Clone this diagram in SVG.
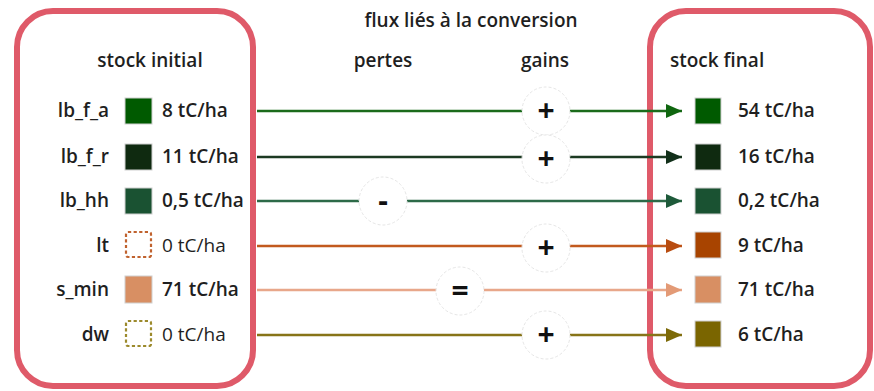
<svg xmlns="http://www.w3.org/2000/svg" width="874" height="391" viewBox="0 0 874 391">
  <style>
    text { font-family: "Open Sans", "Noto Sans", "Liberation Sans", sans-serif; fill: #1f1f1f; font-size: 19px; font-weight: 600; }
    .reg { font-weight: 400; }
    .mid { text-anchor: middle; }
    .end { text-anchor: end; }
    .frame { fill: #ffffff; stroke: #df5a69; stroke-width: 6; }
    .sq { stroke: #d0d0d0; stroke-width: 1; }
    .dash { fill: none; stroke-width: 2.2; stroke-dasharray: 3.2 2.4; }
    .flow { fill: none; stroke-width: 2.4; }
    .op { fill: #ffffff; stroke: #e6e6e6; stroke-width: 1; stroke-dasharray: 3 2; }
    .sym { font-size: 30px; font-weight: 700; text-anchor: middle; fill: #111; }
  </style>
  <defs>
    <marker id="ah1" viewBox="0 0 16 14" refX="16" refY="7" markerWidth="16" markerHeight="14" markerUnits="userSpaceOnUse" orient="auto"><path d="M0,0 L16,7 L0,14 Z" fill="#0f660f"/></marker>
    <marker id="ah2" viewBox="0 0 16 14" refX="16" refY="7" markerWidth="16" markerHeight="14" markerUnits="userSpaceOnUse" orient="auto"><path d="M0,0 L16,7 L0,14 Z" fill="#12301a"/></marker>
    <marker id="ah3" viewBox="0 0 16 14" refX="16" refY="7" markerWidth="16" markerHeight="14" markerUnits="userSpaceOnUse" orient="auto"><path d="M0,0 L16,7 L0,14 Z" fill="#1e5a3a"/></marker>
    <marker id="ah4" viewBox="0 0 16 14" refX="16" refY="7" markerWidth="16" markerHeight="14" markerUnits="userSpaceOnUse" orient="auto"><path d="M0,0 L16,7 L0,14 Z" fill="#b84c10"/></marker>
    <marker id="ah5" viewBox="0 0 16 14" refX="16" refY="7" markerWidth="16" markerHeight="14" markerUnits="userSpaceOnUse" orient="auto"><path d="M0,0 L16,7 L0,14 Z" fill="#e39a76"/></marker>
    <marker id="ah6" viewBox="0 0 16 14" refX="16" refY="7" markerWidth="16" markerHeight="14" markerUnits="userSpaceOnUse" orient="auto"><path d="M0,0 L16,7 L0,14 Z" fill="#7d6a08"/></marker>
  </defs>

  <rect width="874" height="391" fill="#ffffff"/>

  <!-- frames -->
  <rect class="frame" x="17" y="11" width="236" height="375" rx="36"/>
  <rect class="frame" x="650" y="11" width="220" height="375" rx="36"/>

  <!-- headings -->
  <text class="mid" x="471" y="27">flux liés à la conversion</text>
  <text class="mid" x="150" y="67">stock initial</text>
  <text class="mid" x="383" y="67">pertes</text>
  <text class="mid" x="545" y="67">gains</text>
  <text x="670" y="67">stock final</text>

  <!-- connectors -->
  <g id="connectors">
    <line class="flow" x1="257" y1="111" x2="682" y2="111" stroke="#1b6b1b" marker-end="url(#ah1)"/>
    <line class="flow" x1="257" y1="157" x2="682" y2="157" stroke="#1c3a22" marker-end="url(#ah2)"/>
    <line class="flow" x1="257" y1="201" x2="682" y2="201" stroke="#2d6a48" marker-end="url(#ah3)"/>
    <line class="flow" x1="257" y1="246" x2="682" y2="246" stroke="#c25a1e" marker-end="url(#ah4)"/>
    <line class="flow" x1="257" y1="290" x2="682" y2="290" stroke="#e8a78a" marker-end="url(#ah5)"/>
    <line class="flow" x1="257" y1="335" x2="682" y2="335" stroke="#877418" marker-end="url(#ah6)"/>
  </g>

  <!-- operators on each flow -->
  <g id="op-lb_f_a"><circle class="op" cx="546" cy="111" r="24"/><text class="sym" x="546" y="121">+</text></g>
  <g id="op-lb_f_r"><circle class="op" cx="546" cy="159" r="24"/><text class="sym" x="546" y="169">+</text></g>
  <g id="op-lb_hh"><circle class="op" cx="383" cy="201" r="24"/><text class="sym" x="383" y="211">-</text></g>
  <g id="op-lt"><circle class="op" cx="546" cy="248" r="24"/><text class="sym" x="546" y="258">+</text></g>
  <g id="op-s_min"><circle class="op" cx="460" cy="291" r="24"/><text class="sym" x="460" y="301">=</text></g>
  <g id="op-dw"><circle class="op" cx="546" cy="335" r="24"/><text class="sym" x="546" y="345">+</text></g>

  <!-- initial stock -->
  <g id="init-lb_f_a">
    <text class="end" x="109" y="117">lb_f_a</text>
    <rect class="sq" x="125" y="98" width="27" height="26" fill="#005a00"/>
    <text x="162" y="117">8 tC/ha</text>
  </g>
  <g id="init-lb_f_r">
    <text class="end" x="109" y="163">lb_f_r</text>
    <rect class="sq" x="125" y="144" width="27" height="26" fill="#0f2a10"/>
    <text x="162" y="163">11 tC/ha</text>
  </g>
  <g id="init-lb_hh">
    <text class="end" x="109" y="207">lb_hh</text>
    <rect class="sq" x="125" y="188" width="27" height="26" fill="#1a5232"/>
    <text x="162" y="207">0,5 tC/ha</text>
  </g>
  <g id="init-lt">
    <text class="end" x="109" y="252">lt</text>
    <rect class="dash" x="126" y="232" width="25" height="25" rx="2" stroke="#c0622e"/>
    <text class="reg" x="162" y="252">0 tC/ha</text>
  </g>
  <g id="init-s_min">
    <text class="end" x="109" y="296">s_min</text>
    <rect class="sq" x="125" y="276" width="27" height="27" fill="#d88f63"/>
    <text x="162" y="296">71 tC/ha</text>
  </g>
  <g id="init-dw">
    <text class="end" x="109" y="341">dw</text>
    <rect class="dash" x="126" y="321" width="25" height="25" rx="2" stroke="#9c8a2c"/>
    <text class="reg" x="162" y="341">0 tC/ha</text>
  </g>

  <!-- final stock -->
  <g id="final-lb_f_a">
    <rect class="sq" x="695" y="98" width="26" height="26" fill="#005a00"/>
    <text x="738" y="117">54 tC/ha</text>
  </g>
  <g id="final-lb_f_r">
    <rect class="sq" x="695" y="144" width="26" height="26" fill="#0f2a10"/>
    <text x="738" y="163">16 tC/ha</text>
  </g>
  <g id="final-lb_hh">
    <rect class="sq" x="695" y="188" width="26" height="26" fill="#1a5232"/>
    <text x="738" y="207">0,2 tC/ha</text>
  </g>
  <g id="final-lt">
    <rect class="sq" x="695" y="232" width="26" height="26" fill="#a84400"/>
    <text x="738" y="252">9 tC/ha</text>
  </g>
  <g id="final-s_min">
    <rect class="sq" x="695" y="276" width="26" height="27" fill="#d88f63"/>
    <text x="738" y="296">71 tC/ha</text>
  </g>
  <g id="final-dw">
    <rect class="sq" x="695" y="321" width="26" height="26" fill="#7a6500"/>
    <text x="738" y="341">6 tC/ha</text>
  </g>
</svg>
